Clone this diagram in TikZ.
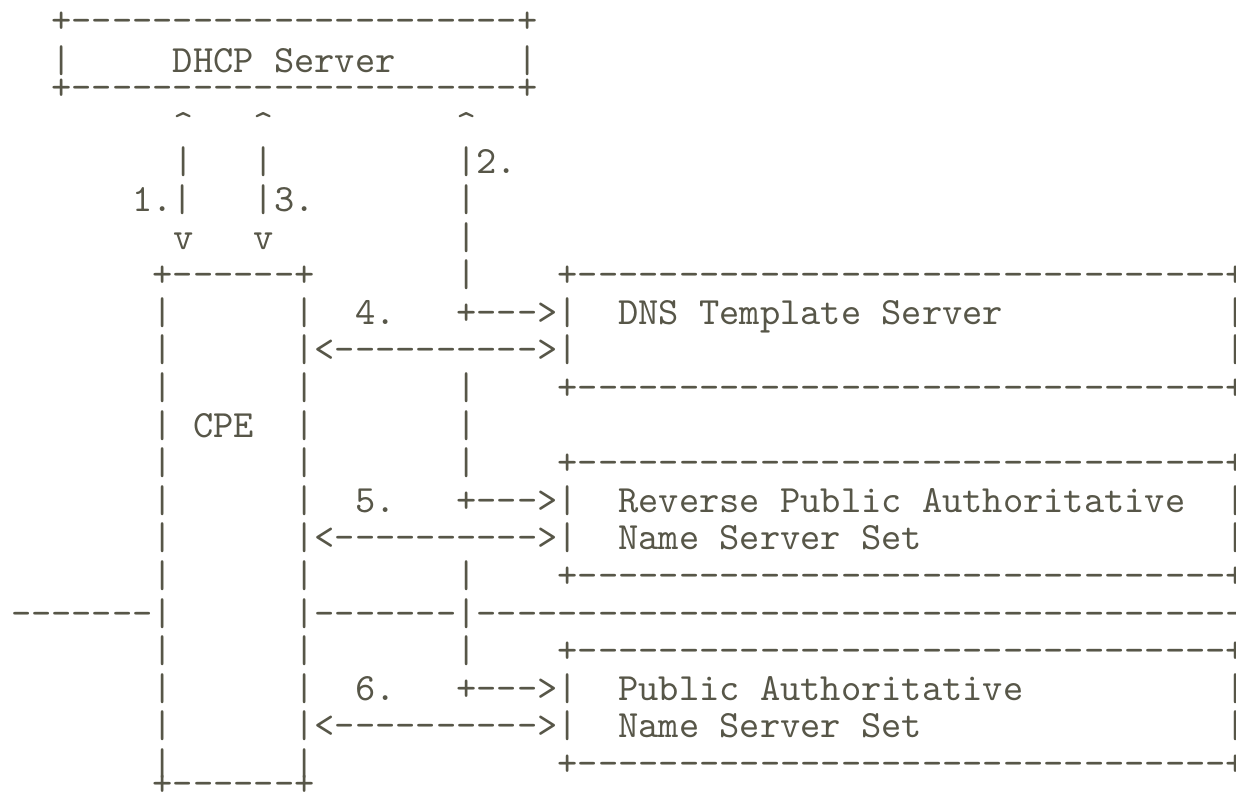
\documentclass[tikz,border=0pt]{standalone}
\usepackage{fontspec}
\setmonofont{lmmono10-regular.otf}
\definecolor{ink}{RGB}{87,86,72}
\begin{document}
\begin{tikzpicture}[x=20.25pt,y=-1pt,
  asc/.style={anchor=base west, inner sep=0pt, outer sep=0pt, text=ink,
    font=\ttfamily\fontsize{38.57}{38.57}\selectfont}]
\useasboundingbox (-0.5432,0) rectangle (60.494,799);
\node[asc] (r0) at (2,33) {+----------------------+};
\node[asc] (r1) at (2,73) {|~~~~~DHCP~Server~~~~~~|};
\node[asc] (r2) at (2,100) {+----------------------+};
\node[asc] (r3) at (8,136.4) {\textasciicircum~~~\textasciicircum~~~~~~~~~\textasciicircum};
\node[asc] (r4) at (8,174) {|~~~|~~~~~~~~~|2.};
\node[asc] (r5) at (6,211.6) {1.|~~~|3.~~~~~~~|};
\node[asc] (r6) at (8,249.2) {v~~~v~~~~~~~~~|};
\node[asc] (r7) at (7,286.8) {+------+~~~~~~~|~~~~+--------------------------------+};
\node[asc] (r8) at (7,324.4) {|~~~~~~|~~4.~~~+--->|~~DNS~Template~Server~~~~~~~~~~~|};
\node[asc] (r9) at (7,362) {|~~~~~~|<---------->|~~~~~~~~~~~~~~~~~~~~~~~~~~~~~~~~|};
\node[asc] (r10) at (7,399.6) {|~~~~~~|~~~~~~~|~~~~+--------------------------------+};
\node[asc] (r11) at (7,437.2) {|~CPE~~|~~~~~~~|};
\node[asc] (r12) at (7,474.8) {|~~~~~~|~~~~~~~|~~~~+--------------------------------+};
\node[asc] (r13) at (7,512.4) {|~~~~~~|~~5.~~~+--->|~~Reverse~Public~Authoritative~~|};
\node[asc] (r14) at (7,550) {|~~~~~~|<---------->|~~Name~Server~Set~~~~~~~~~~~~~~~|};
\node[asc] (r15) at (7,587.6) {|~~~~~~|~~~~~~~|~~~~+--------------------------------+};
\node[asc] (r16) at (0,625.2) {-------|~~~~~~|-------|--------------------------------------};
\node[asc] (r17) at (7,662.8) {|~~~~~~|~~~~~~~|~~~~+--------------------------------+};
\node[asc] (r18) at (7,700.4) {|~~~~~~|~~6.~~~+--->|~~Public~Authoritative~~~~~~~~~~|};
\node[asc] (r19) at (7,738) {|~~~~~~|<---------->|~~Name~Server~Set~~~~~~~~~~~~~~~|};
\node[asc] (r20) at (7,775.6) {|~~~~~~|~~~~~~~~~~~~+--------------------------------+};
\node[asc] (r21) at (7,795) {+------+};
\end{tikzpicture}
\end{document}
